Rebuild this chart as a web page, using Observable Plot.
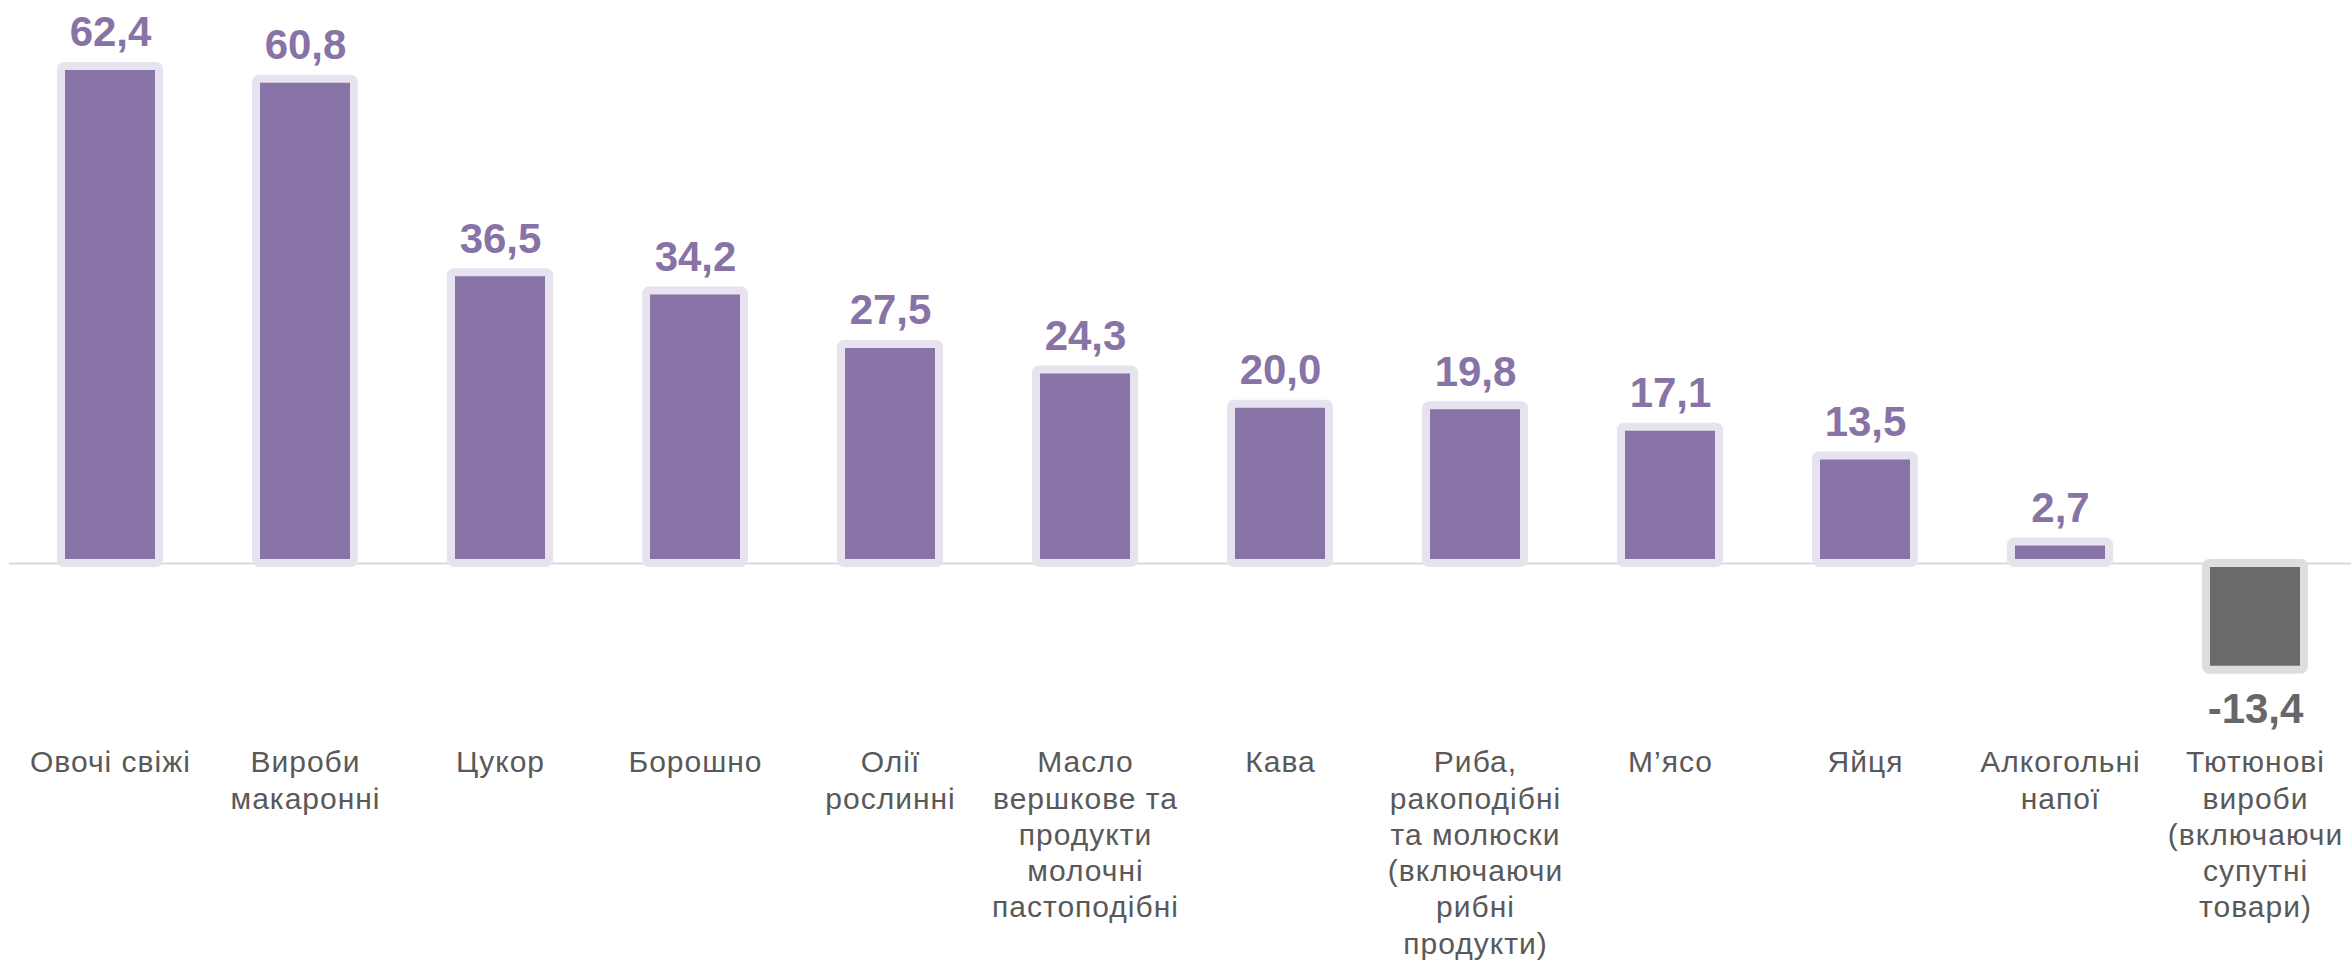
<!DOCTYPE html>
<html>
<head>
<meta charset="utf-8">
<script src="https://cdn.jsdelivr.net/npm/d3@7"></script>
<script src="https://cdn.jsdelivr.net/npm/@observablehq/plot@0.6"></script>
<style>
  html, body { margin: 0; padding: 0; background: #ffffff; }
  #chart svg { display: block; }
  #chart g[aria-label="x-axis tick label"] { letter-spacing: 1px; }
</style>
</head>
<body>
<div id="chart"></div>
<script>
const categories = [
  "Овочі свіжі",
  "Вироби\nмакаронні",
  "Цукор",
  "Борошно",
  "Олії\nрослинні",
  "Масло\nвершкове та\nпродукти\nмолочні\nпастоподібні",
  "Кава",
  "Риба,\nракоподібні\nта молюски\n(включаючи\nрибні\nпродукти)",
  "М’ясо",
  "Яйця",
  "Алкогольні\nнапої",
  "Тютюнові\nвироби\n(включаючи\nсупутні\nтовари)"
];
const values = [62.4, 60.8, 36.5, 34.2, 27.5, 24.3, 20.0, 19.8, 17.1, 13.5, 2.7, -13.4];

const data = categories.map((c, i) => ({cat: c, value: values[i]}));
const fmt = v => v.toFixed(1).replace(".", ",");

const purple = "#8873a6";
const lavender = "#e6e2ee";
const grayFill = "#6b6a6b";
const grayStroke = "#dedede";

const chart = Plot.plot({
  width: 2351,
  height: 960,
  marginLeft: 9,
  marginRight: 0,
  marginTop: 0,
  marginBottom: 214,
  x: {domain: categories, range: [9, 2356], paddingInner: 0.5, paddingOuter: 0.25, axis: null},
  y: {domain: [-20, 70], range: [722.3, 5.45], axis: null},
  style: {fontFamily: "'Liberation Sans', Arial, sans-serif", background: "#ffffff", overflow: "visible"},
  marks: [
    Plot.ruleY([0], {stroke: "#d9d9d9", strokeWidth: 2}),
    Plot.barY(data, {
      x: "cat", y: "value",
      fill: d => d.value < 0 ? grayFill : purple,
      stroke: d => d.value < 0 ? grayStroke : lavender,
      strokeWidth: 8, rx: 3
    }),
    Plot.text(data.filter(d => d.value >= 0), {
      x: "cat", y: "value", text: d => fmt(d.value),
      lineAnchor: "bottom", dy: -20,
      fontSize: 42, fontWeight: "bold", fill: purple
    }),
    Plot.text(data.filter(d => d.value < 0), {
      x: "cat", y: "value", text: d => fmt(d.value),
      lineAnchor: "top", dy: 23,
      fontSize: 42, fontWeight: "bold", fill: "#676767"
    }),
    Plot.axisX({
      anchor: "bottom", tickSize: 0, tickPadding: 0,
      fontSize: 30, lineHeight: 1.21, lineAnchor: "top",
      color: "#595959", label: null
    })
  ]
});
document.getElementById("chart").appendChild(chart);
</script>
</body>
</html>
